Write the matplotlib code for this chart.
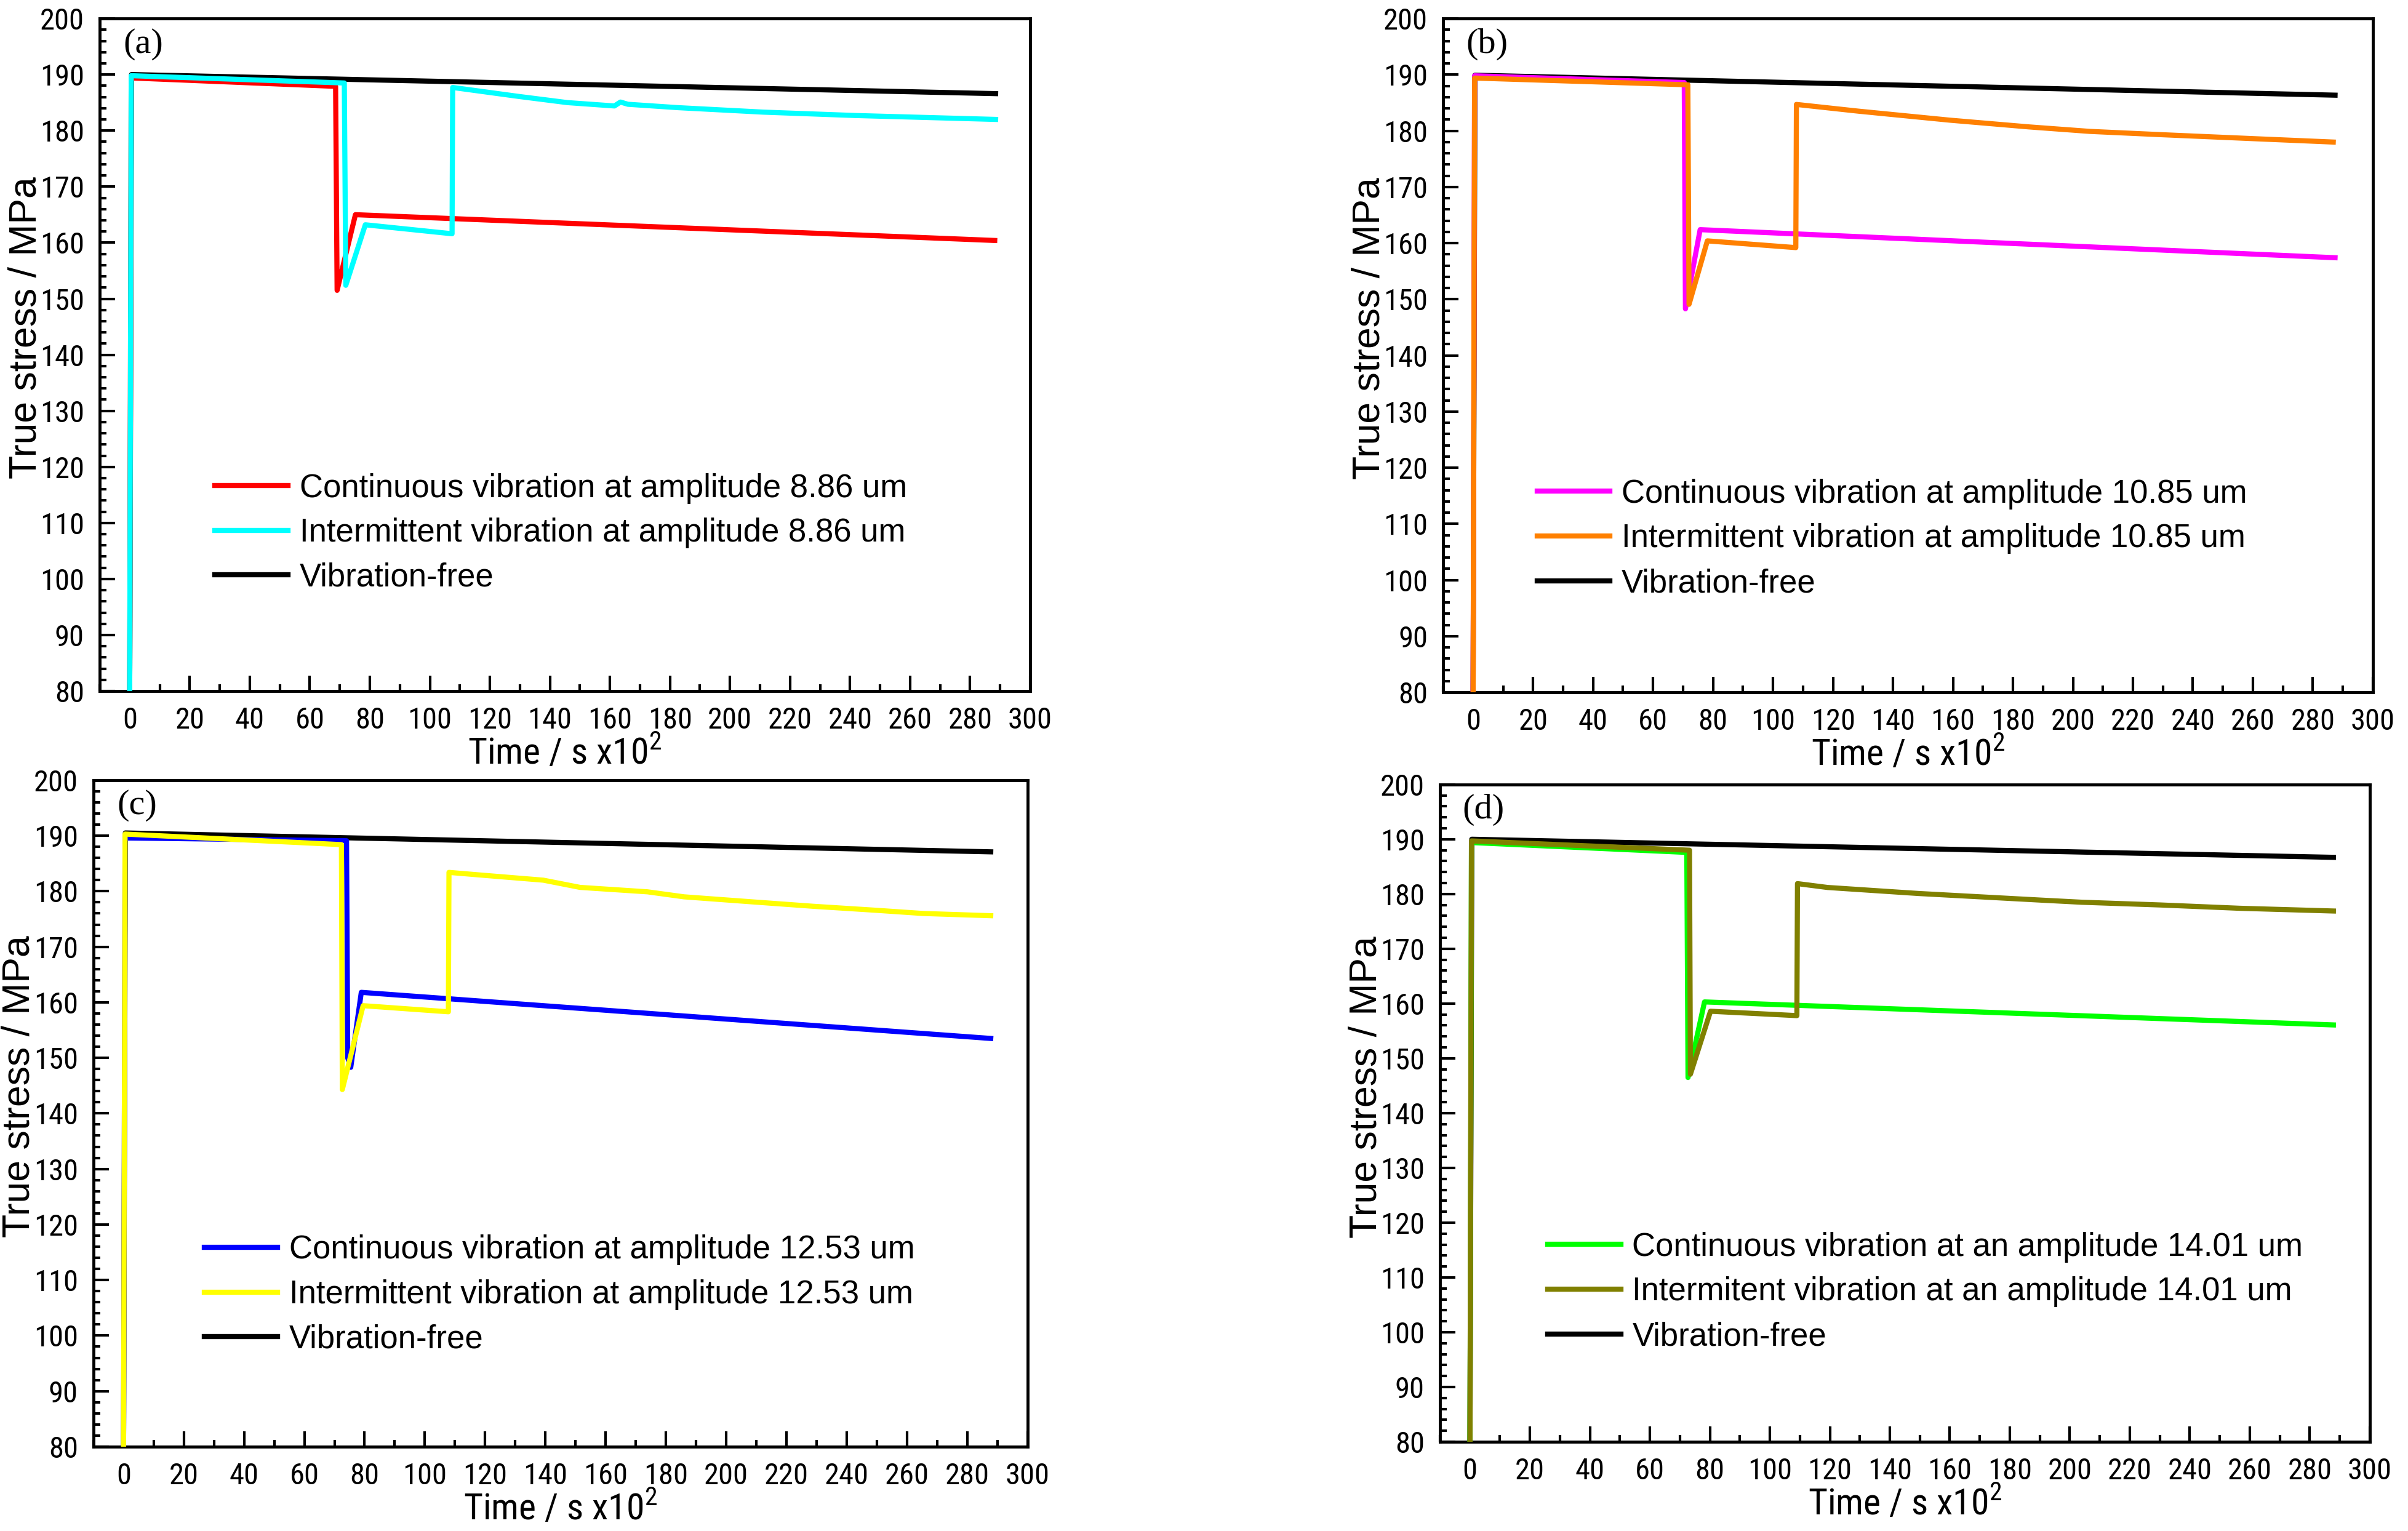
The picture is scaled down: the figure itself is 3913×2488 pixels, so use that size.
import matplotlib
matplotlib.use("Agg")
import matplotlib.pyplot as plt
from matplotlib import font_manager as fm
from matplotlib.ticker import MultipleLocator

plt.rcParams['font.family'] = ['Liberation Sans', 'DejaVu Sans']

# the reference uses a narrow sans for tick labels and the time label
faces = fm.fontManager.ttflist


def has_face(name, stretch=None):
    return any(f.name == name and (stretch is None or f.stretch == stretch) for f in faces)


narrow_size = 1.0
if has_face('Liberation Sans Narrow'):
    narrow_family, narrow_stretch = 'Liberation Sans Narrow', 'normal'
elif has_face('Arial Narrow'):
    narrow_family, narrow_stretch = 'Arial Narrow', 'normal'
elif has_face('Roboto Condensed'):
    narrow_family, narrow_stretch = 'Roboto Condensed', 'normal'
elif has_face('DejaVu Sans', 'condensed'):
    narrow_family, narrow_stretch = 'DejaVu Sans', 'condensed'
    narrow_size = 0.92
else:
    narrow_family, narrow_stretch = 'Liberation Sans', 'normal'
    narrow_size = 0.86

# ---- data (time in s x10^2, true stress in MPa) ----
# (a) 8.86 um
free_a_x = [0, 0.6, 288.5]
free_a_y = [80, 190.0, 186.6]
cont_a_x = [0, 0.5, 68.6, 69.1, 75.2, 288.2]
cont_a_y = [80, 189.4, 187.9, 151.5, 165.0, 160.4]
inter_a_x = [0, 0.5, 71.5, 72.0, 78.5, 107.4, 107.6, 129.6, 145.8, 161.5, 163.5, 166.0, 182.6, 211.0, 241.5, 288.5]
inter_a_y = [80, 189.8, 188.5, 152.4, 163.2, 161.6, 187.7, 186.1, 185.0, 184.4, 185.1, 184.7, 184.1, 183.3, 182.7, 182.0]

# (b) 10.85 um
free_b_x = [0, 0.6, 287.4]
free_b_y = [80, 189.9, 186.35]
cont_b_x = [0, 0.5, 70.4, 70.8, 75.7, 287.4]
cont_b_y = [80, 189.8, 188.6, 148.3, 162.4, 157.4]
inter_b_x = [0, 0.5, 71.6, 72.0, 78.1, 107.6, 107.8, 128.5, 158.9, 185.3, 205.6, 230.0, 260.4, 286.8]
inter_b_y = [80, 189.4, 188.2, 149.1, 160.4, 159.2, 184.7, 183.5, 181.9, 180.7, 179.9, 179.3, 178.6, 178.0]

# (c) 12.53 um
free_c_x = [0, 0.6, 287.8]
free_c_y = [80, 190.5, 187.1]
cont_c_x = [0, 0.5, 74.0, 74.4, 75.4, 78.9, 287.8]
cont_c_y = [80, 189.6, 189.1, 150.0, 148.3, 161.8, 153.5]
inter_c_x = [0, 0.5, 72.3, 72.6, 79.5, 107.8, 108.0, 119.0, 139.3, 151.5, 173.9, 186.0, 208.5, 228.8, 249.1, 265.4, 287.8]
inter_c_y = [80, 190.3, 188.4, 144.3, 159.4, 158.3, 183.4, 182.9, 182.0, 180.7, 179.9, 179.0, 178.1, 177.3, 176.6, 176.0, 175.6]

# (d) 14.01 um
free_d_x = [0, 0.6, 287.9]
free_d_y = [80, 190.0, 186.7]
cont_d_x = [0, 0.5, 72.3, 72.7, 78.2, 287.9]
cont_d_y = [80, 189.4, 187.6, 146.5, 160.3, 156.1]
inter_d_x = [0, 0.5, 73.2, 73.5, 80.2, 109.0, 109.2, 119.2, 149.5, 190.0, 204.0, 230.3, 256.6, 287.9]
inter_d_y = [80, 189.7, 188.0, 147.1, 158.6, 157.8, 181.9, 181.2, 180.1, 178.9, 178.5, 178.0, 177.4, 176.9]

panel_tags = ['(a)', '(b)', '(c)', '(d)']
cont_labels = ['Continuous vibration at amplitude 8.86 um',
               'Continuous vibration at amplitude 10.85 um',
               'Continuous vibration at amplitude 12.53 um',
               'Continuous vibration at an amplitude 14.01 um']
inter_labels = ['Intermittent vibration at amplitude 8.86 um',
                'Intermittent vibration at amplitude 10.85 um',
                'Intermittent vibration at amplitude 12.53 um',
                'Intermitent vibration at an amplitude 14.01 um']
free_label = 'Vibration-free'
cont_colors = ['#ff0000', '#ff00ff', '#0000ff', '#00ff00']
inter_colors = ['#00ffff', '#ff8000', '#ffff00', '#808000']

panels = [
    (free_a_x, free_a_y, cont_a_x, cont_a_y, inter_a_x, inter_a_y),
    (free_b_x, free_b_y, cont_b_x, cont_b_y, inter_b_x, inter_b_y),
    (free_c_x, free_c_y, cont_c_x, cont_c_y, inter_c_x, inter_c_y),
    (free_d_x, free_d_y, cont_d_x, cont_d_y, inter_d_x, inter_d_y),
]

# axes boxes in figure fractions
boxes = [[0.0414, 0.5486, 0.3864, 0.4393],
         [0.5993, 0.5478, 0.3861, 0.4401],
         [0.0388, 0.0551, 0.3879, 0.4353],
         [0.5980, 0.0583, 0.3861, 0.4293]]
legend_anchor = [(0.124, 0.235), (0.101, 0.228), (0.119, 0.228), (0.116, 0.228)]

fig = plt.figure(figsize=(39.13, 24.88), dpi=100)
lw = 6

for i, (fx, fy, cx, cy, ix, iy) in enumerate(panels):
    ax = fig.add_axes(boxes[i])
    l1, = ax.plot(cx, cy, color=cont_colors[i], lw=lw, zorder=3)
    l3, = ax.plot(fx, fy, color='black', lw=lw, zorder=2)
    l2, = ax.plot(ix, iy, color=inter_colors[i], lw=lw, zorder=4)

    ax.set_xlim(-10, 300)
    ax.set_ylim(80, 200)
    ax.xaxis.set_major_locator(MultipleLocator(20))
    ax.xaxis.set_minor_locator(MultipleLocator(10))
    ax.yaxis.set_major_locator(MultipleLocator(10))
    ax.yaxis.set_minor_locator(MultipleLocator(2))
    ax.tick_params(which='both', direction='in', top=False, right=False, width=3)
    ax.tick_params(which='major', length=18, pad=18, labelsize=35 * narrow_size)
    ax.tick_params(which='minor', length=8)
    for lab in ax.get_xticklabels() + ax.get_yticklabels():
        lab.set_family(narrow_family)
        lab.set_stretch(narrow_stretch)
    for sp in ax.spines.values():
        sp.set_linewidth(3.5)

    ax.set_xlabel(r'Time / s x10$^{\mathregular{2}}$', fontsize=43 * narrow_size,
                  family=narrow_family, stretch=narrow_stretch, labelpad=-1)
    ax.set_ylabel('True stress / MPa', fontsize=45)
    ax.yaxis.set_label_coords(-0.06, 0.54)

    ax.text(0.047, 0.962, panel_tags[i], transform=ax.transAxes, fontsize=42,
            family='Liberation Serif', ha='center', va='center')

    ax.legend([l1, l2, l3], [cont_labels[i], inter_labels[i], free_label],
              loc='center left', bbox_to_anchor=legend_anchor[i], frameon=False,
              fontsize=38, handlelength=2.25, handletextpad=0.35, labelspacing=0.43,
              borderpad=0, borderaxespad=0)

fig.savefig('out.png', dpi=100)
